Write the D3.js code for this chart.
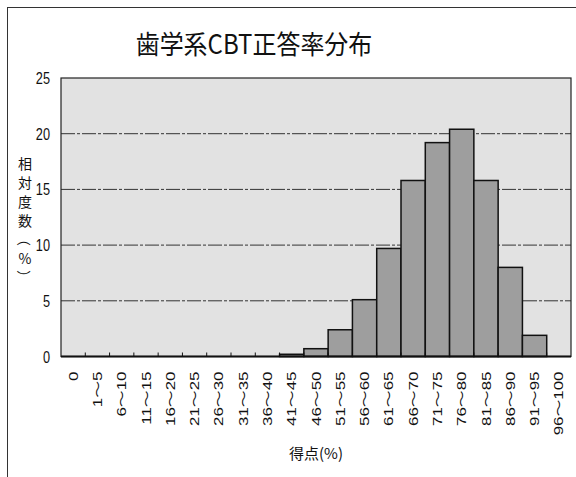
<!DOCTYPE html>
<html>
<head>
<meta charset="utf-8">
<script src="https://cdn.jsdelivr.net/npm/d3@7"></script>
<style>
  html, body { margin: 0; padding: 0; background: #fff; }
  svg { display: block; }
</style>
</head>
<body>
<svg id="chart" width="576" height="477"></svg>
<script>
// Score bands and relative frequency (%) of each band
const categories = ["0", "1～5", "6～10", "11～15", "16～20", "21～25", "26～30", "31～35", "36～40",
  "41～45", "46～50", "51～55", "56～60", "61～65", "66～70", "71～75", "76～80", "81～85",
  "86～90", "91～95", "96～100"];
const values = [0, 0, 0, 0, 0, 0, 0, 0, 0, 0.2, 0.7, 2.4, 5.1, 9.7, 15.8, 19.2, 20.4, 15.8, 8.0, 1.9, 0];
const yTicks = [0, 5, 10, 15, 20, 25];
const title = "歯学系CBT正答率分布";
const yTitleChars = ["相", "対", "度", "数", "（", "%", "）"];
const xTitle = "得点(%)";

const svg = d3.select("#chart");
const plot = { left: 61, right: 571, top: 78, bottom: 356.5 };

const x = d3.scaleBand().domain(categories).range([plot.left, plot.right]).padding(0);
const y = d3.scaleLinear().domain([0, 25]).range([plot.bottom, plot.top]);

// outer frame
svg.append("rect")
  .attr("x", 7.5).attr("y", 7.5).attr("width", 600).attr("height", 500)
  .attr("fill", "none").attr("stroke", "#333").attr("stroke-width", 1);

// title
svg.append("text")
  .attr("transform", "translate(254,54) scale(1,1.1)")
  .attr("text-anchor", "middle")
  .attr("font-family", "'Noto Sans CJK JP', sans-serif")
  .attr("font-size", 24)
  .attr("fill", "#111")
  .text(title);

// plot background
svg.append("rect")
  .attr("x", plot.left).attr("y", plot.top)
  .attr("width", plot.right - plot.left).attr("height", plot.bottom - plot.top)
  .attr("fill", "#e2e2e2");

// dashed gridlines
svg.append("g")
  .selectAll("line")
  .data(yTicks.filter(d => d > 0 && d < 25))
  .join("line")
  .attr("x1", plot.left).attr("x2", plot.right)
  .attr("y1", d => y(d)).attr("y2", d => y(d))
  .attr("stroke", "#333").attr("stroke-width", 1)
  .attr("stroke-dasharray", "14,2,3,2");

// bars
svg.append("g")
  .selectAll("rect")
  .data(categories.map((c, i) => ({ c, v: values[i] })).filter(d => d.v > 0))
  .join("rect")
  .attr("x", d => x(d.c))
  .attr("width", x.bandwidth())
  .attr("y", d => y(d.v))
  .attr("height", d => y(0) - y(d.v))
  .attr("fill", "#9e9e9e")
  .attr("stroke", "#111")
  .attr("stroke-width", 1.5);

// plot border
svg.append("rect")
  .attr("x", plot.left).attr("y", plot.top)
  .attr("width", plot.right - plot.left).attr("height", plot.bottom - plot.top)
  .attr("fill", "none").attr("stroke", "#222").attr("stroke-width", 1.2);

// x axis with inner ticks on band boundaries
const xAxis = svg.append("g").attr("transform", `translate(0,${plot.bottom})`);
xAxis.append("line")
  .attr("x1", plot.left).attr("x2", plot.right)
  .attr("stroke", "#111").attr("stroke-width", 2);
xAxis.selectAll("line.tick")
  .data(categories.slice(1))
  .join("line")
  .attr("class", "tick")
  .attr("x1", d => x(d)).attr("x2", d => x(d))
  .attr("y1", 0).attr("y2", -4)
  .attr("stroke", "#111").attr("stroke-width", 1);

// x tick labels, rotated
xAxis.selectAll("text")
  .data(categories)
  .join("text")
  .attr("transform", d => `translate(${x(d) + x.bandwidth() / 2 + 4.5},15) scale(1,1.3) rotate(-90)`)
  .attr("text-anchor", "end")
  .attr("font-family", "'Liberation Sans', 'Noto Sans CJK JP', sans-serif")
  .attr("font-size", 13)
  .attr("fill", "#111")
  .text(d => d);

// y tick labels
svg.append("g")
  .selectAll("text")
  .data(yTicks)
  .join("text")
  .attr("transform", d => `translate(50,${y(d) + 6}) scale(0.85,1.1)`)
  .attr("text-anchor", "end")
  .attr("font-family", "'Liberation Sans', sans-serif")
  .attr("font-size", 15)
  .attr("fill", "#111")
  .text(d => d);

// vertical y-axis title, one character per line
const yTitle = svg.append("g");
yTitleChars.forEach((ch, i) => {
  const cy = 163 + i * 19;
  const t = yTitle.append("text")
    .attr("text-anchor", "middle")
    .attr("dominant-baseline", "central")
    .attr("font-family", "'Noto Sans CJK JP', sans-serif")
    .attr("font-size", 14)
    .attr("fill", "#111")
    .text(ch);
  if (ch === "（" || ch === "）") {
    t.attr("transform", `translate(25,${cy}) rotate(90)`);
  } else {
    t.attr("transform", `translate(25,${cy})`);
  }
});

// x-axis title
svg.append("text")
  .attr("x", (plot.left + plot.right) / 2)
  .attr("y", 459)
  .attr("text-anchor", "middle")
  .attr("font-family", "'Noto Sans CJK JP', sans-serif")
  .attr("font-size", 15)
  .attr("fill", "#111")
  .text(xTitle);
</script>
</body>
</html>
